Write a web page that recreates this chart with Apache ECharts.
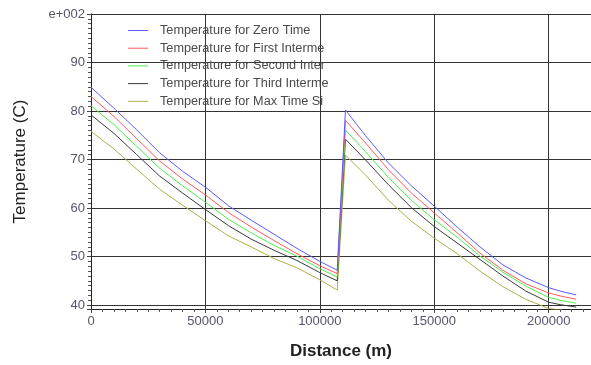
<!DOCTYPE html>
<html>
<head>
<meta charset="utf-8">
<script src="https://cdn.jsdelivr.net/npm/echarts@6/dist/echarts.min.js"></script>
<style>html,body{margin:0;padding:0;background:#fff}#c{width:591px;height:365px}</style>
</head>
<body>
<div id="c"></div>
<script>
// Distance (m) along the line
var distances = [0, 10000, 20000, 30000, 40000, 50000, 60000, 70000, 80000, 90000, 100000, 107600,
                 111200, 120000, 130000, 140000, 150000, 160000, 170000, 180000, 190000, 200000, 205000, 212000];
var seriesNames = ['Temperature for Zero Time', 'Temperature for First Interme', 'Temperature for Second Inter',
                   'Temperature for Third Interme', 'Temperature for Max Time Si'];
var tempZero   = [84.9, 80.6, 76.1, 71.4, 67.6, 64.3, 60.5, 57.5, 54.6, 51.7, 49.0, 47.2,
                  80.2, 74.9, 69.3, 64.6, 60.4, 56.1, 52.0, 48.3, 45.6, 43.6, 42.9, 42.1];
var tempFirst  = [83.0, 78.9, 74.3, 69.7, 66.0, 62.7, 59.1, 56.1, 53.3, 50.6, 48.1, 46.5,
                  78.1, 73.4, 67.9, 63.1, 59.0, 54.9, 50.7, 47.2, 44.4, 42.5, 41.9, 41.2];
var tempSecond = [81.1, 77.2, 72.7, 68.2, 64.6, 61.2, 57.7, 54.9, 52.3, 50.1, 47.5, 45.8,
                  76.1, 71.6, 66.3, 61.6, 57.6, 54.0, 50.1, 46.8, 43.9, 41.6, 41.0, 40.4];
var tempThird  = [79.2, 75.4, 71.0, 66.6, 63.1, 59.7, 56.4, 53.6, 51.3, 49.2, 46.7, 45.0,
                  74.2, 69.9, 64.8, 60.1, 56.2, 52.8, 49.4, 46.0, 42.9, 40.6, 40.1, 39.6];
var tempMax    = [75.8, 72.2, 68.0, 63.9, 60.6, 57.4, 54.3, 52.0, 49.6, 47.7, 45.2, 43.1,
                  70.9, 66.8, 61.6, 57.3, 53.8, 50.6, 47.0, 43.8, 41.2, 39.3, 39.0, 38.6];
var yTickValues = [40, 50, 60, 70, 80, 90, 100];
var yTickLabels = ['40', '50', '60', '70', '80', '90', 'e+002'];
var xTickValues = [0, 50000, 100000, 150000, 200000];
var xTickLabels = ['0', '50000', '100000', '150000', '200000'];

var colors = ['#5a5aff', '#ff5a5a', '#4cee4c', '#3a3a3a', '#aeae4a'];
var allSeries = [tempZero, tempFirst, tempSecond, tempThird, tempMax];
var FONT = "'Liberation Sans', Arial, sans-serif";

function pairs(arr) { return distances.map(function (d, i) { return [d, arr[i]]; }); }

var chart = echarts.init(document.getElementById('c'), null, {renderer: 'canvas'});
chart.setOption({
  animation: false,
  backgroundColor: '#ffffff',
  grid: {left: 91, right: 0, top: 14, bottom: 53.5, containLabel: false},
  legend: {
    orient: 'vertical', left: 128, top: 24, padding: 0,
    itemWidth: 20, itemHeight: 14, itemGap: 4.7,
    icon: 'path://M0,0 L20,0 L20,1 L0,1 Z',
    textStyle: {fontFamily: FONT, fontSize: 12.7, color: '#4a4a4a', padding: [0, 0, 0, 7]},
    data: seriesNames
  },
  xAxis: {
    type: 'value', min: 0, max: 218500, interval: 50000,
    name: 'Distance (m)', nameLocation: 'middle', nameGap: 34,
    nameTextStyle: {fontFamily: FONT, fontSize: 17, color: '#222', fontWeight: 'bold'},
    axisLine: {show: true, onZero: false, lineStyle: {color: '#222', width: 1}},
    axisTick: {show: true, length: 4, lineStyle: {color: '#444'}},
    minorTick: {show: true, splitNumber: 10, length: 3, lineStyle: {color: '#555'}},
    axisLabel: {fontFamily: FONT, fontSize: 13, color: '#55556a', margin: 6, showMaxLabel: false,
      formatter: function (v) { var i = xTickValues.indexOf(v); return i >= 0 ? xTickLabels[i] : ''; }},
    splitLine: {show: true, lineStyle: {color: '#333', width: 1}}
  },
  yAxis: {
    type: 'value', min: 39.2, max: 100,
    name: 'Temperature (C)', nameLocation: 'middle', nameGap: 62, nameRotate: 90,
    nameTextStyle: {fontFamily: FONT, fontSize: 17, color: '#222'},
    axisLine: {show: true, lineStyle: {color: '#222', width: 1}},
    axisTick: {show: true, length: 4, lineStyle: {color: '#444'}},
    minorTick: {show: true, splitNumber: 10, length: 3, lineStyle: {color: '#555'}},
    axisLabel: {fontFamily: FONT, fontSize: 13, color: '#55556a', margin: 6, showMinLabel: false,
      formatter: function (v) { var i = yTickValues.indexOf(Math.round(v * 10) / 10); return i >= 0 ? yTickLabels[i] : ''; }},
    splitLine: {show: true, lineStyle: {color: '#333', width: 1}}
  },
  series: allSeries.map(function (arr, k) {
    return {
      name: seriesNames[k], type: 'line', data: pairs(arr),
      symbol: 'none', showSymbol: false, clip: true,
      lineStyle: {color: colors[k], width: 1}, itemStyle: {color: colors[k]},
      z: 10 - k
    };
  })
});
</script>
</body>
</html>
